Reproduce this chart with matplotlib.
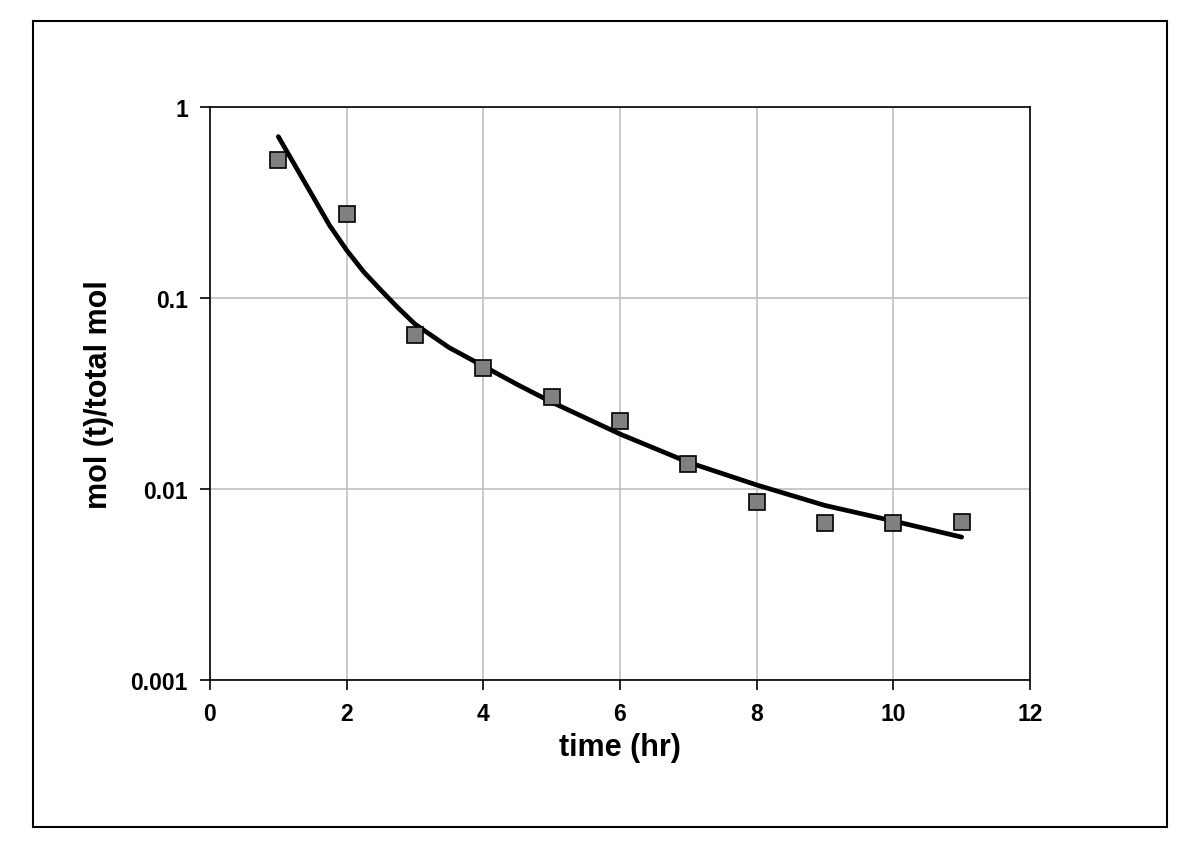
import matplotlib.pyplot as plt
from matplotlib.patches import Rectangle

# measured points
time_hr = [1, 2, 3, 4, 5, 6, 7, 8, 9, 10, 11]
mol_frac = [0.528, 0.275, 0.064, 0.043, 0.0303, 0.0227, 0.0135, 0.00855, 0.00664, 0.00664, 0.0067]

# fitted curve
fit_time = [1, 1.25, 1.5, 1.75, 2, 2.25, 2.5, 2.75, 3, 3.5, 4, 4.5, 5, 6, 7, 8, 9, 10, 11]
fit_frac = [0.70, 0.49, 0.343, 0.24, 0.178, 0.137, 0.11, 0.089, 0.073, 0.055, 0.044,
            0.0352, 0.0285, 0.0194, 0.0138, 0.0105, 0.0082, 0.0068, 0.0056]

plt.rcParams['font.family'] = ['Liberation Sans', 'DejaVu Sans']
plt.rcParams['font.weight'] = 'bold'

fig = plt.figure(figsize=(12, 8.54), dpi=100)
ax = fig.add_axes([0.175, 0.2026, 0.6833, 0.6709])

ax.plot(fit_time, fit_frac, color='black', linewidth=3.4, solid_capstyle='round',
        solid_joinstyle='round', zorder=3)
ax.plot(time_hr, mol_frac, linestyle='none', marker='s', markersize=11.5,
        markerfacecolor='#808080', markeredgecolor='black', markeredgewidth=1.2, zorder=4)

ax.set_yscale('log')
ax.set_xlim(0, 12)
ax.set_ylim(0.001, 1)
ax.set_xticks(range(0, 13, 2))
ax.set_yticks([0.001, 0.01, 0.1, 1])
ax.set_yticklabels(['0.001', '0.01', '0.1', '1'])
ax.minorticks_off()
ax.grid(True, color='#c0c0c0', linewidth=1.2)
ax.set_axisbelow(True)

for side in ax.spines.values():
    side.set_linewidth(1.2)
ax.tick_params(direction='out', length=7, width=1.2, labelsize=16.5, pad=9)
for lab in ax.get_xticklabels() + ax.get_yticklabels():
    lab.set_fontweight('bold')

ax.set_xlabel('time (hr)', fontsize=22, fontweight='bold', labelpad=5)
ax.set_ylabel('mol (t)/total mol', fontsize=22, fontweight='bold', labelpad=12)

# outer chart frame
fig.patches.append(Rectangle((33 / 1200, 1 - 828 / 854), 1134 / 1200, 806 / 854,
                             transform=fig.transFigure, fill=False,
                             edgecolor='black', linewidth=1.5))

fig.savefig('out.png', dpi=100)
